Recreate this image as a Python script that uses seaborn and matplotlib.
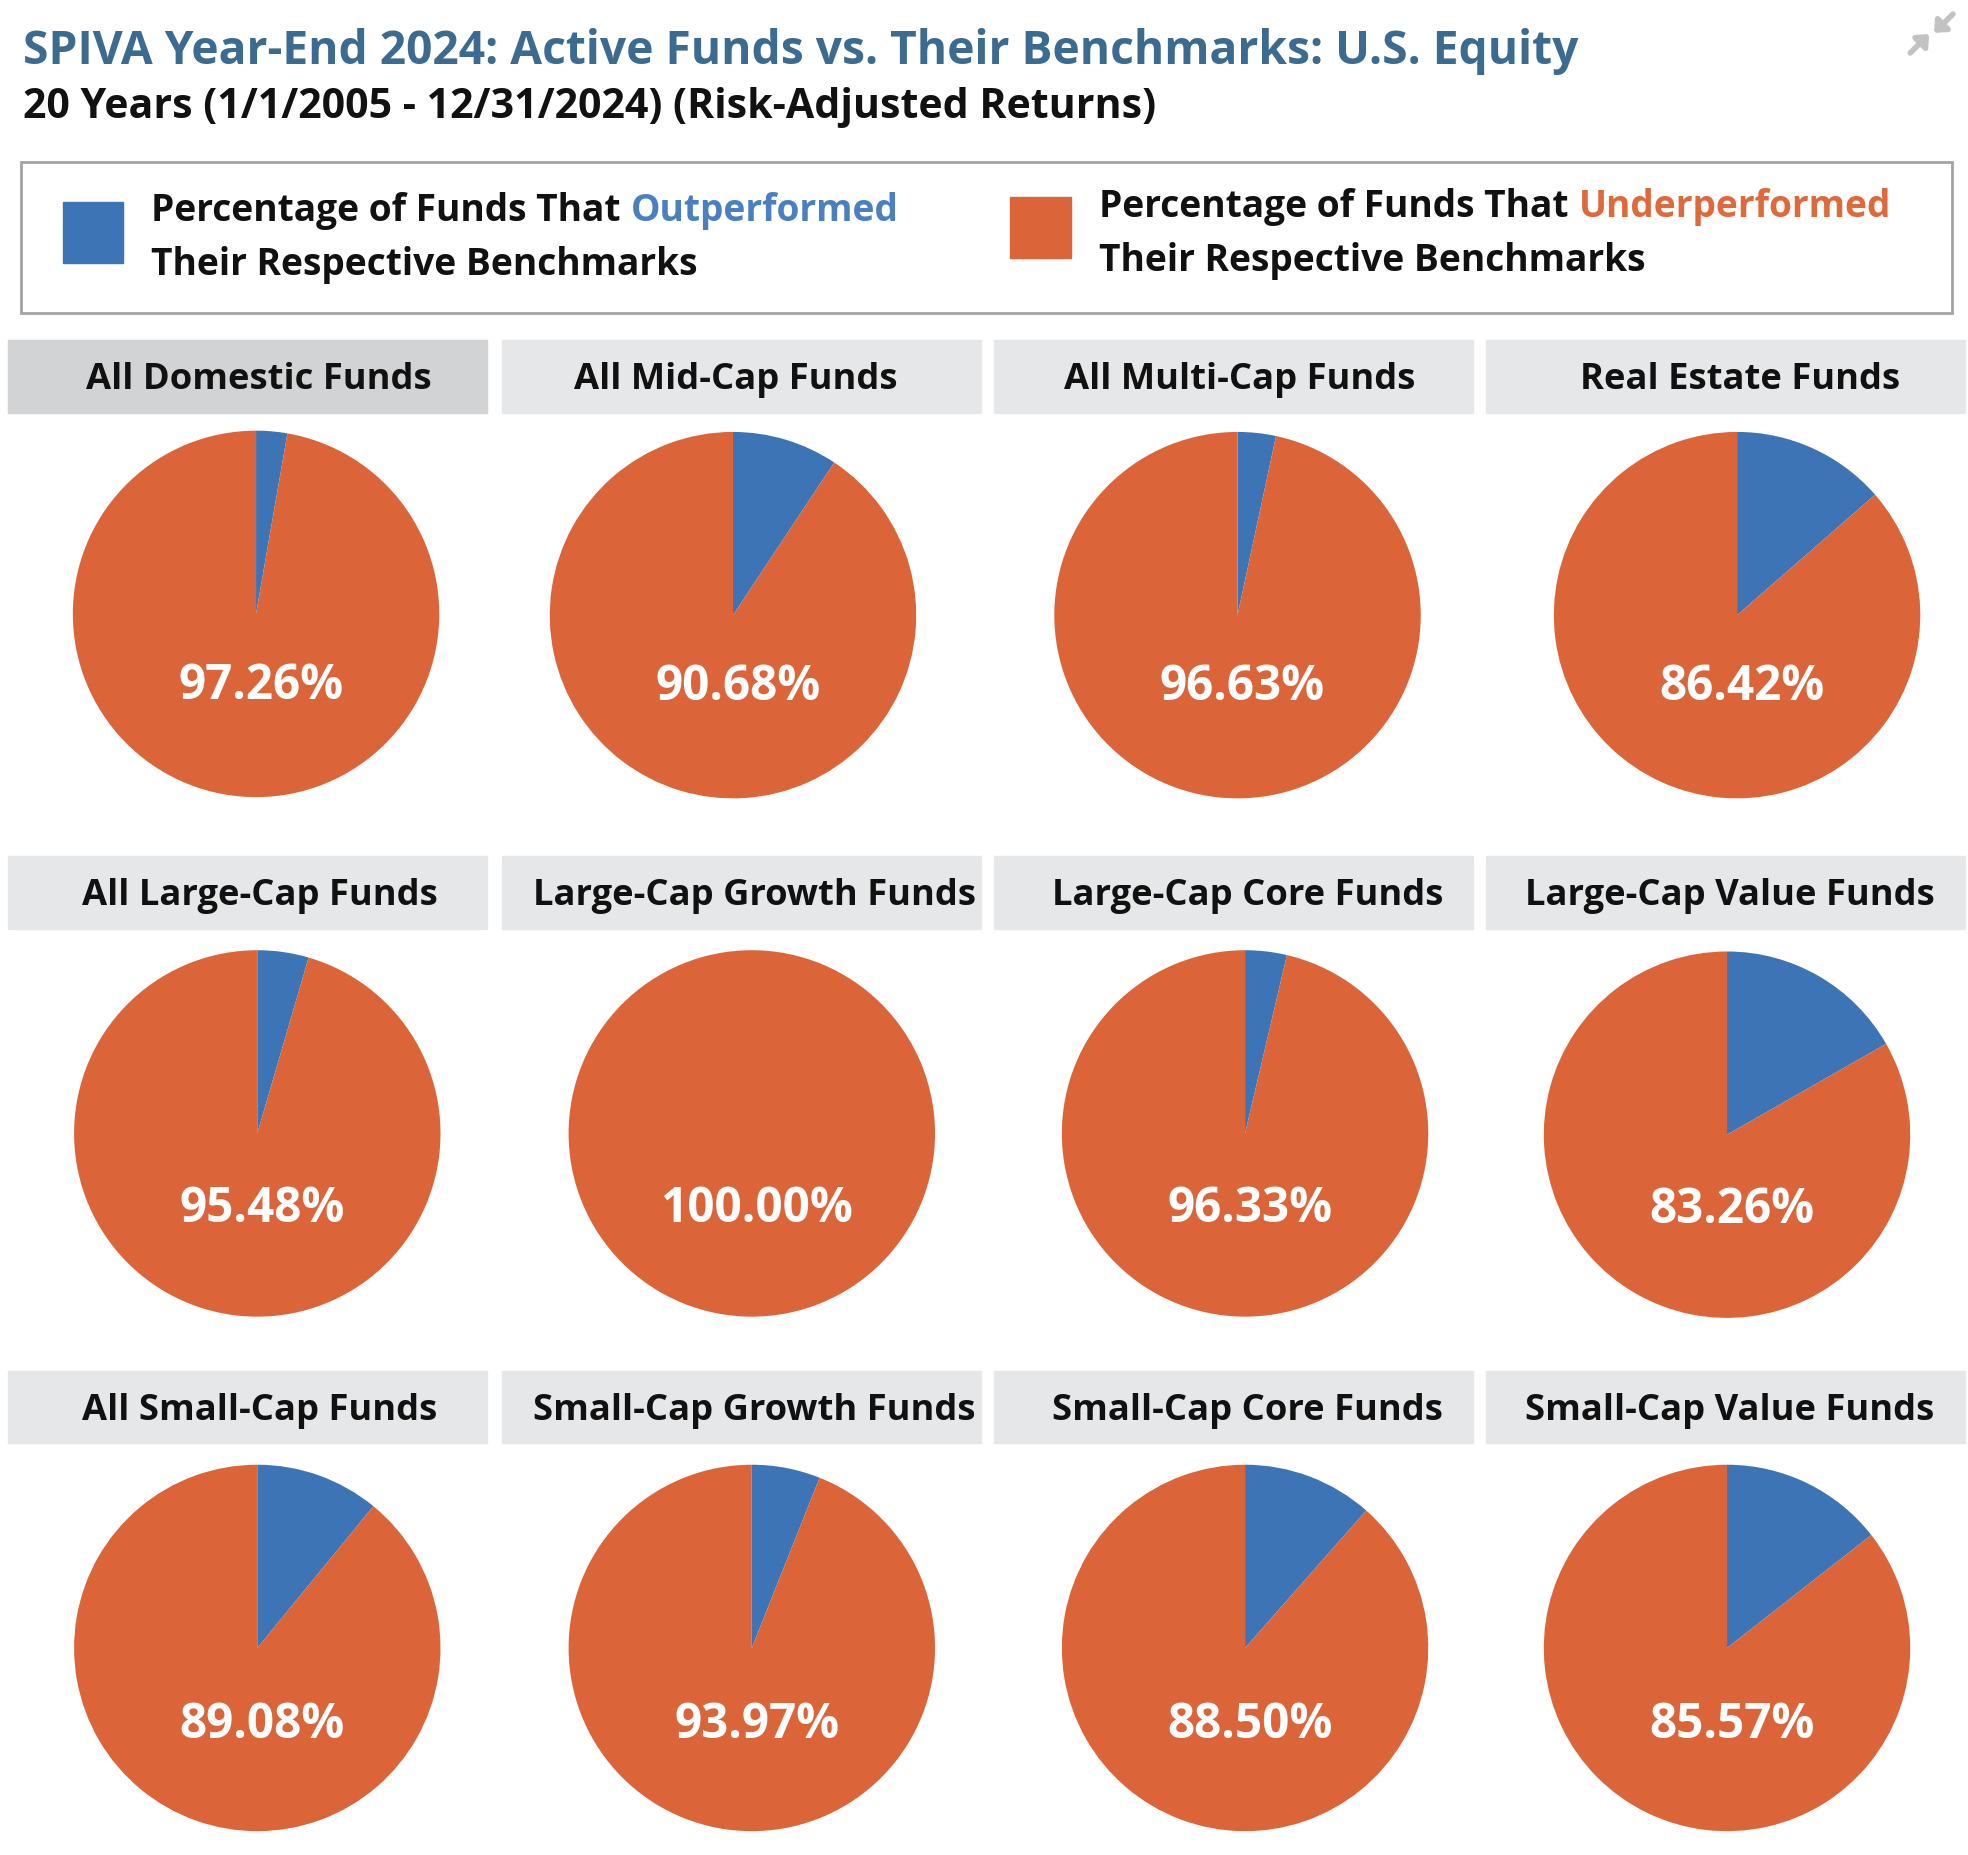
import matplotlib.pyplot as plt
import matplotlib.patches as mpatches
import seaborn as sns

# data
categories = ["All Domestic Funds", "All Mid-Cap Funds", "All Multi-Cap Funds", "Real Estate Funds",
              "All Large-Cap Funds", "Large-Cap Growth Funds", "Large-Cap Core Funds", "Large-Cap Value Funds",
              "All Small-Cap Funds", "Small-Cap Growth Funds", "Small-Cap Core Funds", "Small-Cap Value Funds"]
underperformed = [97.26, 90.68, 96.63, 86.42,
                  95.48, 100.00, 96.33, 83.26,
                  89.08, 93.97, 88.50, 85.57]
outperformed = [round(100 - u, 2) for u in underperformed]

title = "SPIVA Year-End 2024: Active Funds vs. Their Benchmarks: U.S. Equity"
subtitle = "20 Years (1/1/2005 - 12/31/2024) (Risk-Adjusted Returns)"

sns.set_theme(style="white")
plt.rcParams['font.family'] = ['Open Sans', 'DejaVu Sans']

BLUE = "#3d74b5"
ORANGE = "#dc6439"
colors = sns.color_palette([BLUE, ORANGE])

# layout works in a 1568 x 1479 grid, scaled to the 1968 x 1856 output
W, H = 1568, 1479
S = 1968 / 1568
def pt(px):
    return px * S * 0.72

fig = plt.figure(figsize=(19.68, 18.56), dpi=100)
bg = fig.add_axes([0, 0, 1, 1])
bg.set_xlim(0, W)
bg.set_ylim(H, 0)
bg.axis('off')

bg.text(18, 41, title, fontsize=pt(36.8), fontweight='bold', color="#3b6b90", va='center', ha='left')
bg.text(18, 86, subtitle, fontsize=pt(32.8), fontweight='bold', color="#111111", va='center', ha='left')

# collapse icon top right
for (x0, y0, x1, y1) in [(1556, 12, 1541, 27), (1522, 43, 1537, 28)]:
    bg.annotate("", xy=(x1, y1), xytext=(x0, y0),
                arrowprops=dict(arrowstyle="-|>,head_length=0.5,head_width=0.45", color="#c2c2c2", lw=4,
                                shrinkA=0, shrinkB=0))

# legend box
bg.add_patch(mpatches.Rectangle((17, 130), 1538, 120, fill=False, ec="#a3a3a3", lw=2))
bg.add_patch(mpatches.Rectangle((50, 162), 48, 48, color=colors[0]))
bg.add_patch(mpatches.Rectangle((805, 158), 48, 48, color=colors[1]))
leg_fs = pt(29.6)
t1 = bg.text(120, 168, "Percentage of Funds That", fontsize=leg_fs, fontweight='bold', color="#111111", va='center')
bg.annotate("Outperformed", xy=(1, 0.5), xycoords=t1, xytext=(leg_fs * 0.28, 0), textcoords='offset points',
            fontsize=leg_fs, fontweight='bold', color="#4a80c2", va='center')
bg.text(120, 211, "Their Respective Benchmarks", fontsize=leg_fs, fontweight='bold', color="#111111", va='center')
t2 = bg.text(876, 165, "Percentage of Funds That", fontsize=leg_fs, fontweight='bold', color="#111111", va='center')
bg.annotate("Underperformed", xy=(1, 0.5), xycoords=t2, xytext=(leg_fs * 0.28, 0), textcoords='offset points',
            fontsize=leg_fs, fontweight='bold', color="#e0693b", va='center')
bg.text(876, 208, "Their Respective Benchmarks", fontsize=leg_fs, fontweight='bold', color="#111111", va='center')

# grid geometry
box_x = [6, 400, 792, 1184]
box_top = [272, 683, 1093]
pie_xy = [(204, 490), (584, 491), (986, 491), (1384, 491),
          (205, 904), (599, 904), (992, 904), (1376, 905),
          (205, 1314), (599, 1314), (992, 1314), (1376, 1314)]
label_dy = [57, 60, 61]
R = 146

for i, name in enumerate(categories):
    row, col = divmod(i, 4)
    cx, cy = pie_xy[i]
    face = "#d2d3d5" if i == 0 else "#e6e7e8"
    bg.add_patch(mpatches.Rectangle((box_x[col], box_top[row]), 382, 58, color=face, zorder=0))
    bg.text(cx + 2, box_top[row] + 31, name, fontsize=pt(29), fontweight='bold', color="#111111",
            ha='center', va='center')

    ax = fig.add_axes([(cx - R) / W, 1 - (cy + R) / H, 2 * R / W, 2 * R / H])
    ax.pie([outperformed[i], underperformed[i]], colors=colors, startangle=90, counterclock=False,
           radius=1, wedgeprops=dict(linewidth=0))
    ax.set_xlim(-1, 1)
    ax.set_ylim(-1, 1)
    ax.axis('off')
    ax.text(4 / R, -label_dy[row] / R, f"{underperformed[i]:.2f}%", fontsize=pt(38), fontweight='bold',
            color="white", ha='center', va='center')

plt.savefig("out.png", dpi=100)
